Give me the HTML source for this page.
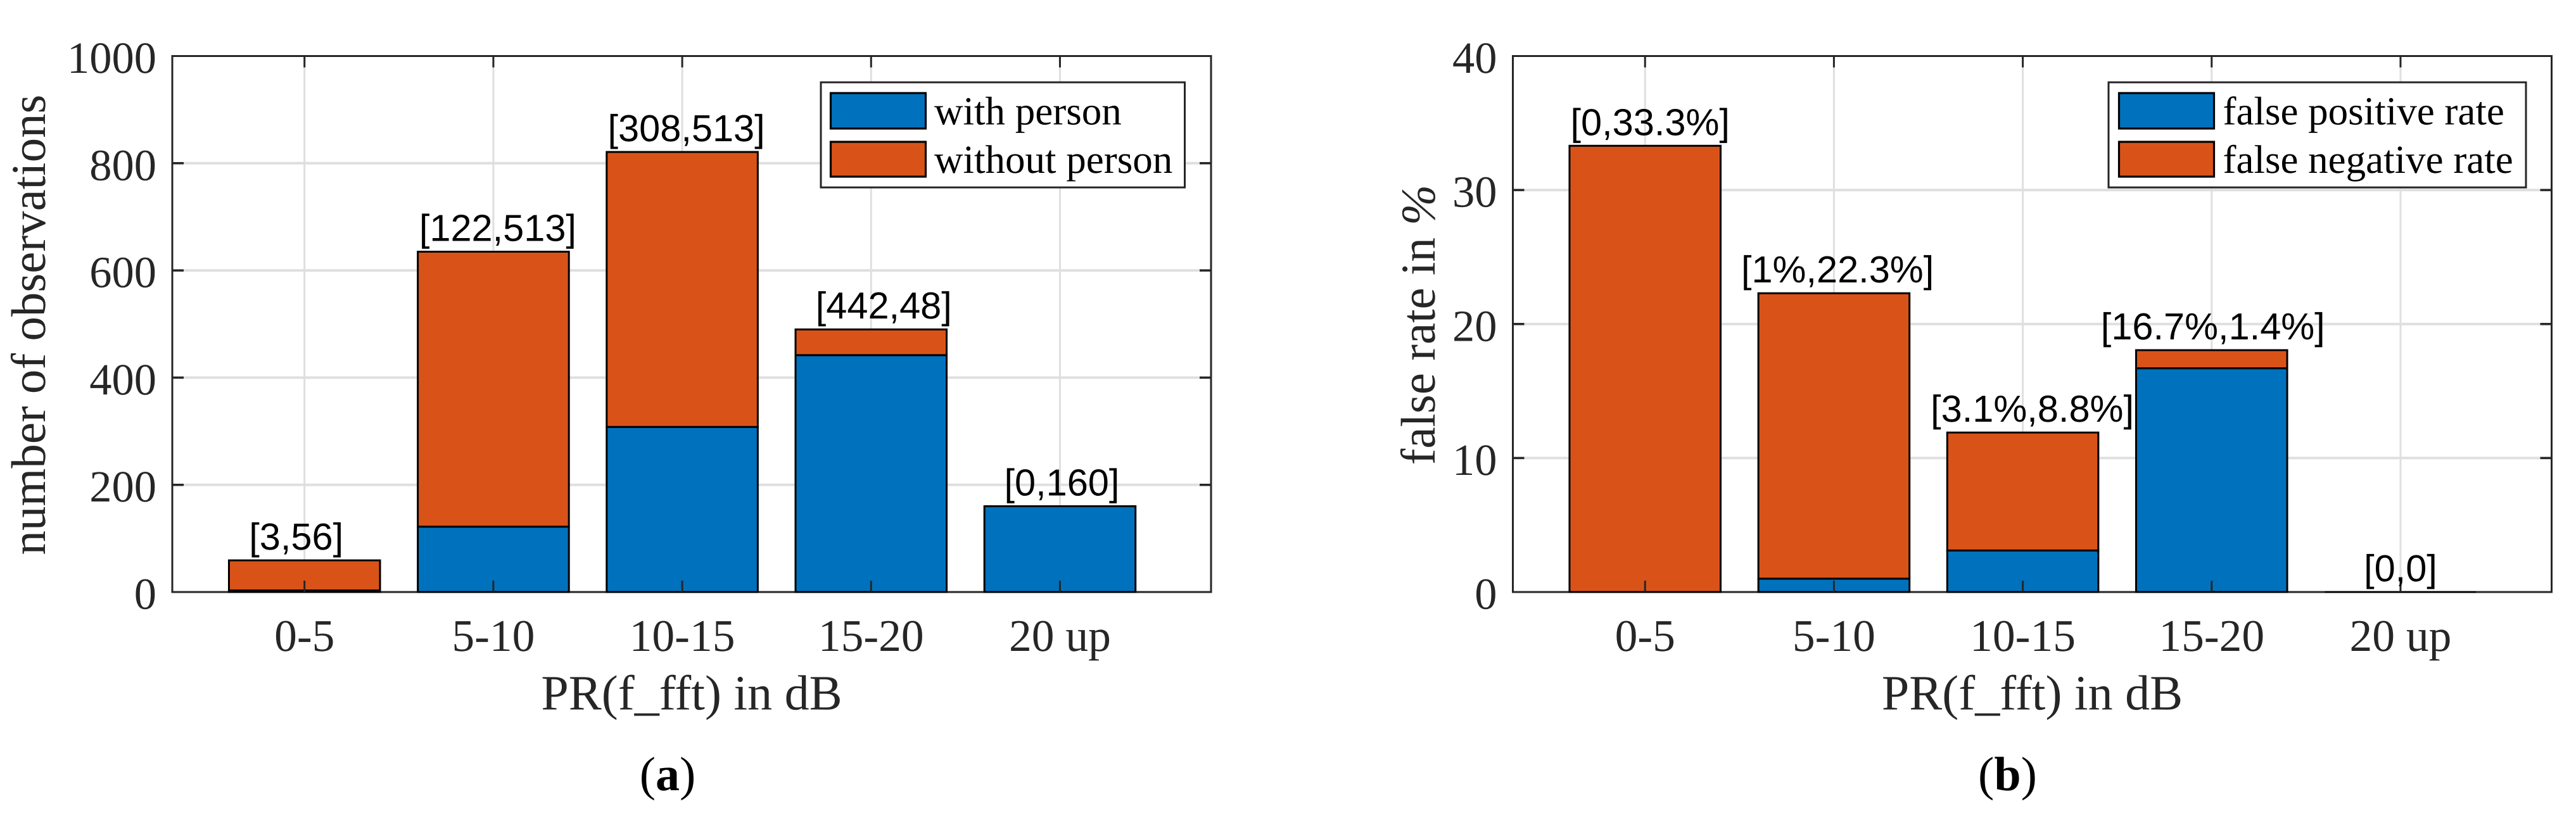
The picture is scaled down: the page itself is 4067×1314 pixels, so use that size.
<!DOCTYPE html>
<html lang="en">
<head>
<meta charset="utf-8">
<title>Observations and false rates by PR(f_fft)</title>
<style>
html,body{margin:0;padding:0;background:#fff;}
body{width:4067px;height:1314px;overflow:hidden;}
svg{display:block;text-rendering:geometricPrecision;}
.serif{font-family:"Liberation Serif","Times New Roman",serif;}
.sans{font-family:"Liberation Sans",Arial,sans-serif;}
</style>
</head>
<body>
<svg id="figure" xmlns="http://www.w3.org/2000/svg" width="4067" height="1314" viewBox="0 0 4067 1314">
<rect x="0" y="0" width="4067" height="1314" fill="#ffffff"></rect>
</svg>
<script>
const categories = ['0-5', '5-10', '10-15', '15-20', '20 up'];

const withPerson = [3, 122, 308, 442, 160];
const withoutPerson = [56, 513, 513, 48, 0];
const observationLabels = ['[3,56]', '[122,513]', '[308,513]', '[442,48]', '[0,160]'];
const observationTicks = [0, 200, 400, 600, 800, 1000];

const falsePositiveRate = [0, 1, 3.1, 16.7, 0];
const falseNegativeRate = [33.3, 21.3, 8.8, 1.35, 0];
const rateLabels = ['[0,33.3%]', '[1%,22.3%]', '[3.1%,8.8%]', '[16.7%,1.4%]', '[0,0]'];
const rateTicks = [0, 10, 20, 30, 40];

const BLUE = '#0072BD', ORANGE = '#D95319', AXIS = '#262626', GRID = '#dfdfdf';
const SVGNS = 'http://www.w3.org/2000/svg';
const root = document.getElementById('figure');

function mk(tag, attrs, parent) {
  const el = document.createElementNS(SVGNS, tag);
  for (const k in attrs) el.setAttribute(k, attrs[k]);
  (parent || root).appendChild(el);
  return el;
}
function slug(s) {
  return String(s).replace(/[^a-zA-Z0-9]+/g, '-').replace(/^-|-$/g, '').toLowerCase();
}

function drawPanel(p) {
  const g = mk('g', {});
  
  

  const top = 88.5, bottom = 935, left = p.left, right = p.left + 1640;
  const xMin = 0.3, xMax = 5.8;
  const yMin = p.yTicks[0], yMax = p.yTicks[p.yTicks.length - 1];
  const xScale = c => left + (c - xMin) / (xMax - xMin) * (right - left);
  const yScale = v => bottom - (v - yMin) / (yMax - yMin) * (bottom - top);
  const barW = 0.8 * (xScale(2) - xScale(1));

  // grid
  p.yTicks.forEach(t => {
    if (t === yMin || t === yMax) return;
    const l = mk('line', {x1: left, x2: right, y1: yScale(t), y2: yScale(t), stroke: GRID, 'stroke-width': 4}, g);
    
    
  });
  p.categories.forEach((c, i) => {
    const l = mk('line', {x1: xScale(i + 1), x2: xScale(i + 1), y1: top, y2: bottom, stroke: GRID, 'stroke-width': 3}, g);
    
    
  });

  // axes box
  const box = mk('rect', {x: left, y: top, width: right - left, height: bottom - top, fill: 'none', stroke: AXIS, 'stroke-width': 3}, g);
  
  

  // stacked bars
  p.categories.forEach((c, i) => {
    const cx = xScale(i + 1), x0 = cx - barW / 2, x1 = cx + barW / 2;
    const y0 = yScale(0), y1 = yScale(p.lower[i]), y2 = yScale(p.lower[i] + p.upper[i]);
    const lowerBar = mk('path', {d: 'M' + x0 + ' ' + y0 + 'L' + x1 + ' ' + y0 + 'L' + x1 + ' ' + y1 + 'L' + x0 + ' ' + y1 + 'Z', fill: BLUE, stroke: '#000', 'stroke-width': 3}, g);
    
    
    const upperBar = mk('path', {d: 'M' + x0 + ' ' + y1 + 'L' + x1 + ' ' + y1 + 'L' + x1 + ' ' + y2 + 'L' + x0 + ' ' + y2 + 'Z', fill: ORANGE, stroke: '#000', 'stroke-width': 3}, g);
    
    
  });

  // ticks
  const tickLen = 18;
  p.yTicks.forEach(t => {
    if (t === yMin || t === yMax) return;
    const y = yScale(t);
    const a = mk('line', {x1: left, x2: left + tickLen, y1: y, y2: y, stroke: AXIS, 'stroke-width': 3.5}, g);
    
    
    const b = mk('line', {x1: right - tickLen, x2: right, y1: y, y2: y, stroke: AXIS, 'stroke-width': 3.5}, g);
    
    
  });
  p.categories.forEach((c, i) => {
    const x = xScale(i + 1);
    const a = mk('line', {x1: x, x2: x, y1: bottom - tickLen, y2: bottom, stroke: AXIS, 'stroke-width': 3}, g);
    
    
    const b = mk('line', {x1: x, x2: x, y1: top, y2: top + tickLen, stroke: AXIS, 'stroke-width': 3}, g);
    
    
  });

  // y tick labels
  p.yTicks.forEach(t => {
    const tx = mk('text', {x: left - 25, y: yScale(t) + 26.5, 'text-anchor': 'end', 'font-size': 70.5, fill: AXIS, class: 'serif'}, g);
    tx.textContent = String(t);
    
    
  });

  // x tick labels
  p.categories.forEach((c, i) => {
    const tx = mk('text', {x: xScale(i + 1), y: 1028, 'text-anchor': 'middle', 'font-size': 71.5, fill: AXIS, class: 'serif'}, g);
    tx.textContent = c;
    
    
  });

  // x axis title
  const xt = mk('text', {x: (left + right) / 2, y: 1120.5, 'text-anchor': 'middle', 'font-size': 78, fill: AXIS, class: 'serif'}, g);
  xt.textContent = 'PR(f_fft) in dB';
  
  

  // y axis title
  const yt = mk('text', {x: p.yTitleX, y: 513, 'text-anchor': 'middle', 'font-size': 77, fill: AXIS, class: 'serif', transform: 'rotate(-90 ' + p.yTitleX + ' 513)'}, g);
  
  
  yt.appendChild(document.createTextNode(p.yTitle));
  if (p.yTitleItalic) {
    const it = mk('tspan', {'font-style': 'italic'}, yt);
    it.textContent = p.yTitleItalic;
  }

  // value labels above stacks
  p.categories.forEach((c, i) => {
    const tx = mk('text', {x: xScale(i + 1) + p.labelNudge[i], y: yScale(p.lower[i] + p.upper[i]) - 17, 'text-anchor': 'middle', 'font-size': 59.5, fill: '#000', class: 'sans'}, g);
    tx.textContent = p.labels[i];
    
    
  });

  // legend
  const leg = mk('g', {}, g);
  
  
  const lb = mk('rect', {x: p.legend.left, y: 130, width: p.legend.right - p.legend.left, height: 166, fill: '#fff', stroke: AXIS, 'stroke-width': 3}, leg);
  
  
  const rows = [
    {color: BLUE, label: p.legend.names[0], y0: 147, y1: 203, base: 196.7},
    {color: ORANGE, label: p.legend.names[1], y0: 224, y1: 279, base: 273}
  ];
  rows.forEach(r => {
    const sw = mk('rect', {x: p.legend.swatchX, y: r.y0, width: p.legend.swatchW, height: r.y1 - r.y0, fill: r.color, stroke: '#000', 'stroke-width': 3.2}, leg);
    
    
    const tx = mk('text', {x: p.legend.textX, y: r.base, 'font-size': 63, fill: '#000', class: 'serif'}, leg);
    tx.textContent = r.label;
    
    
  });

  // sub-caption
  const cap = mk('text', {x: p.captionX, y: 1248, 'text-anchor': 'middle', 'font-size': 76, fill: '#000', class: 'serif'}, g);
  
  
  cap.appendChild(document.createTextNode('('));
  const bold = mk('tspan', {'font-weight': 'bold'}, cap);
  bold.textContent = p.caption;
  cap.appendChild(document.createTextNode(')'));
}

drawPanel({
  id: 'observations',
  left: 272,
  categories: categories,
  lower: withPerson,
  upper: withoutPerson,
  lowerName: 'with-person',
  upperName: 'without-person',
  labels: observationLabels,
  labelNudge: [-13, 7, 6.5, 20, 3],
  yTicks: observationTicks,
  yTitle: 'number of observations',
  yTitleX: 71,
  legend: {left: 1296, right: 1870.5, swatchX: 1311.5, swatchW: 150, textX: 1475, names: ['with person', 'without person']},
  caption: 'a',
  captionX: 1054
});

drawPanel({
  id: 'false-rate',
  left: 2388.5,
  categories: categories,
  lower: falsePositiveRate,
  upper: falseNegativeRate,
  lowerName: 'false-positive',
  upperName: 'false-negative',
  labels: rateLabels,
  labelNudge: [8, 5.7, 15, 2, 0],
  yTicks: rateTicks,
  yTitle: 'false rate in ',
  yTitleItalic: '%',
  yTitleX: 2265,
  legend: {left: 3329, right: 3988, swatchX: 3345.5, swatchW: 150, textX: 3509.5, names: ['false positive rate', 'false negative rate']},
  caption: 'b',
  captionX: 3169.5
});
</script>
</body>
</html>
